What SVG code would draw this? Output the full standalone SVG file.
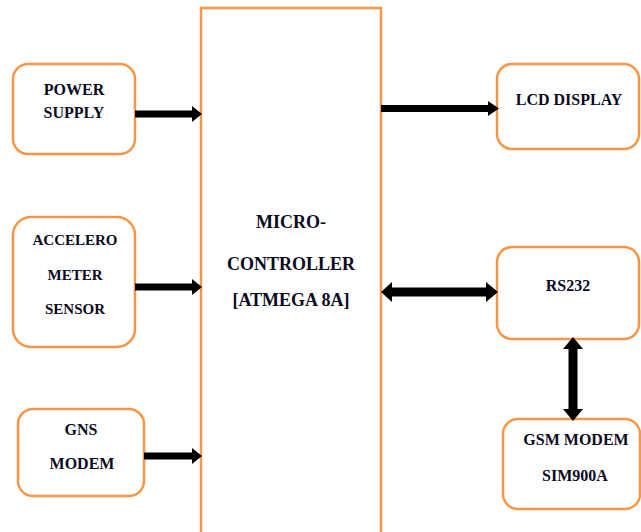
<svg xmlns="http://www.w3.org/2000/svg" width="641" height="532" viewBox="0 0 641 532">
<style>
.box{fill:#fff;stroke:#F79646;stroke-width:2.5}
.t{font-family:'Liberation Serif','Times New Roman','DejaVu Serif',serif;font-weight:700;font-size:16px;fill:#0a0a1e;text-anchor:middle}
.big{font-size:18px}
.s15{font-size:15px}
.arrow{fill:#000}
</style>
<rect width="641" height="532" fill="#fff"/>
<g id="mcu">
<rect class="box" x="201" y="8" width="180" height="600"/>
<text class="t big" x="291" y="228">MICRO-</text>
<text class="t big" x="291" y="270">CONTROLLER</text>
<text class="t big" x="291" y="306">[ATMEGA 8A]</text>
</g>
<g id="power">
<rect class="box" x="13" y="64" width="122" height="90" rx="15"/>
<text class="t" x="74" y="95">POWER</text>
<text class="t" x="74" y="118">SUPPLY</text>
</g>
<g id="accel">
<rect class="box" x="13" y="217" width="122" height="130" rx="18"/>
<text class="t s15" x="75" y="245">ACCELERO</text>
<text class="t s15" x="75" y="280">METER</text>
<text class="t s15" x="75" y="314">SENSOR</text>
</g>
<g id="gns">
<rect class="box" x="18" y="409" width="126" height="87" rx="15"/>
<text class="t" x="81" y="435">GNS</text>
<text class="t" x="82" y="469">MODEM</text>
</g>
<g id="lcd">
<rect class="box" x="497" y="64" width="142" height="85" rx="15"/>
<text class="t" x="569" y="105">LCD DISPLAY</text>
</g>
<g id="rs232">
<rect class="box" x="497" y="247" width="142" height="92" rx="15"/>
<text class="t" x="568" y="291">RS232</text>
</g>
<g id="gsm">
<rect class="box" x="503" y="419" width="137" height="90" rx="15"/>
<text class="t" x="576" y="445">GSM MODEM</text>
<text class="t" x="575" y="481">SIM900A</text>
</g>
<g id="connectors">
<path class="arrow" d="M135,110.5 L192,110.5 L192,106 L202,114 L192,122 L192,117.5 L135,117.5 Z"/>
<path class="arrow" d="M135,283.5 L192,283.5 L192,279 L202,287 L192,295 L192,290.5 L135,290.5 Z"/>
<path class="arrow" d="M144,452.5 L192,452.5 L192,448 L202,456 L192,464 L192,459.5 L144,459.5 Z"/>
<path class="arrow" d="M381,105 L488,105 L488,101 L499,108.5 L488,116 L488,112 L381,112 Z"/>
<path class="arrow" d="M381,292 L392,282 L392,287.5 L486,287.5 L486,282 L498,292 L486,302 L486,296.5 L392,296.5 L392,302 Z"/>
<path class="arrow" d="M573,337 L583,349 L577.5,349 L577.5,409 L583,409 L573,421 L563,409 L568.5,409 L568.5,349 L563,349 Z"/>
</g>
</svg>
